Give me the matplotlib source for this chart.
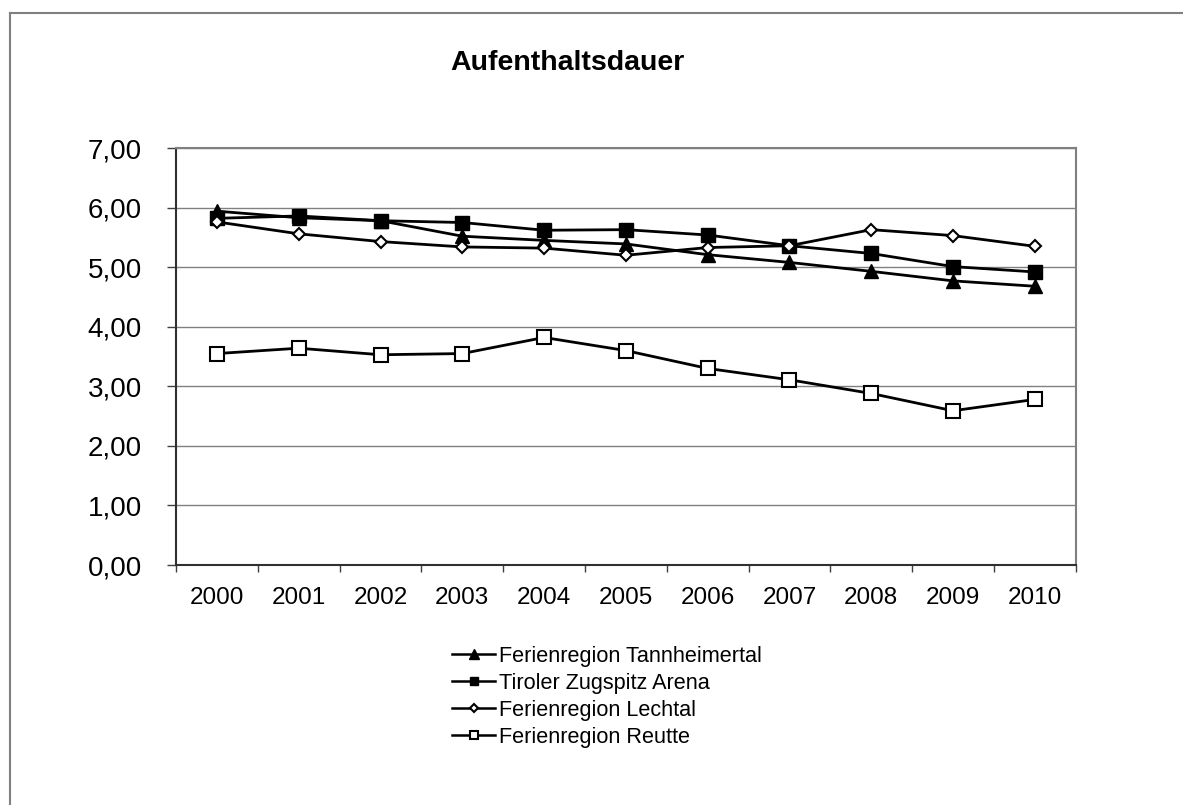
import matplotlib
matplotlib.use("Agg")
import matplotlib.pyplot as plt
from matplotlib.lines import Line2D
import numpy as np

plt.rcParams['font.family'] = ['Liberation Sans', 'DejaVu Sans']

years = ['2000', '2001', '2002', '2003', '2004', '2005', '2006', '2007', '2008', '2009', '2010']
tannheim = [5.94, 5.83, 5.78, 5.52, 5.45, 5.39, 5.21, 5.08, 4.93, 4.77, 4.68]
zugspitz = [5.82, 5.86, 5.78, 5.75, 5.62, 5.63, 5.54, 5.36, 5.23, 5.01, 4.92]
lechtal = [5.76, 5.56, 5.43, 5.34, 5.32, 5.20, 5.33, 5.36, 5.63, 5.53, 5.35]
reutte = [3.55, 3.64, 3.53, 3.55, 3.82, 3.60, 3.30, 3.11, 2.88, 2.59, 2.78]
names = ['Ferienregion Tannheimertal', 'Tiroler Zugspitz Arena',
         'Ferienregion Lechtal', 'Ferienregion Reutte']
yticks = [0, 1, 2, 3, 4, 5, 6, 7]

fig = plt.figure(figsize=(11.83, 8.05), dpi=100)
ax = fig.add_axes([0.1488, 0.2981, 0.7605, 0.518])

x = np.arange(len(years))
ax.plot(x, tannheim, color='black', lw=2, marker='^', ms=10.5, mfc='black', mec='black', label=names[0])
ax.plot(x, zugspitz, color='black', lw=2, marker='s', ms=10, mfc='black', mec='black', label=names[1])
ax.plot(x, lechtal, color='black', lw=2, marker='D', ms=6.6, mfc='white', mec='black', mew=1.5, label=names[2])
ax.plot(x, reutte, color='black', lw=2, marker='s', ms=10, mfc='white', mec='black', mew=1.5, label=names[3])

ax.set_xlim(-0.5, len(years) - 0.5)
ax.set_ylim(0, 7)
ax.set_yticks(yticks)
ax.set_yticklabels([f"{v:.2f}".replace('.', ',') for v in yticks], fontsize=20)
ax.set_xticks(x)
ax.set_xticklabels(years, fontsize=17.5)
ax.set_xticks(np.arange(-0.5, len(years), 1.0), minor=True)
ax.tick_params(axis='x', which='major', length=0, pad=16)
ax.tick_params(axis='x', which='minor', length=5, width=1, direction='out', color='#404040')
ax.tick_params(axis='y', length=6.5, width=1, direction='out', pad=18, color='#404040')

ax.yaxis.grid(True, color='#808080', lw=1)
ax.set_axisbelow(True)
for s in ['top', 'right']:
    ax.spines[s].set_color('#808080')
    ax.spines[s].set_linewidth(1.5)
for s in ['left', 'bottom']:
    ax.spines[s].set_color('#303030')
    ax.spines[s].set_linewidth(1.5)

fig.text(0.480, 0.922, 'Aufenthaltsdauer', fontsize=20.5, fontweight='bold', ha='center', va='center')

leg = fig.legend(loc='upper left', bbox_to_anchor=(452 / 1183, 1 - 646 / 805), frameon=False,
                 fontsize=15.6, handlelength=2.0, handletextpad=0.15, labelspacing=0.27,
                 borderpad=0, borderaxespad=0, markerscale=0.62)
for h in leg.legend_handles:
    h.set_linewidth(1.8)

# outer chart frame
fig.add_artist(Line2D([10 / 1183, 10 / 1183], [0, 1 - 13 / 805], transform=fig.transFigure, color='#808080', lw=1.5))
fig.add_artist(Line2D([10 / 1183, 1], [1 - 13 / 805, 1 - 13 / 805], transform=fig.transFigure, color='#808080', lw=1.5))

fig.savefig('out.png', dpi=100)
